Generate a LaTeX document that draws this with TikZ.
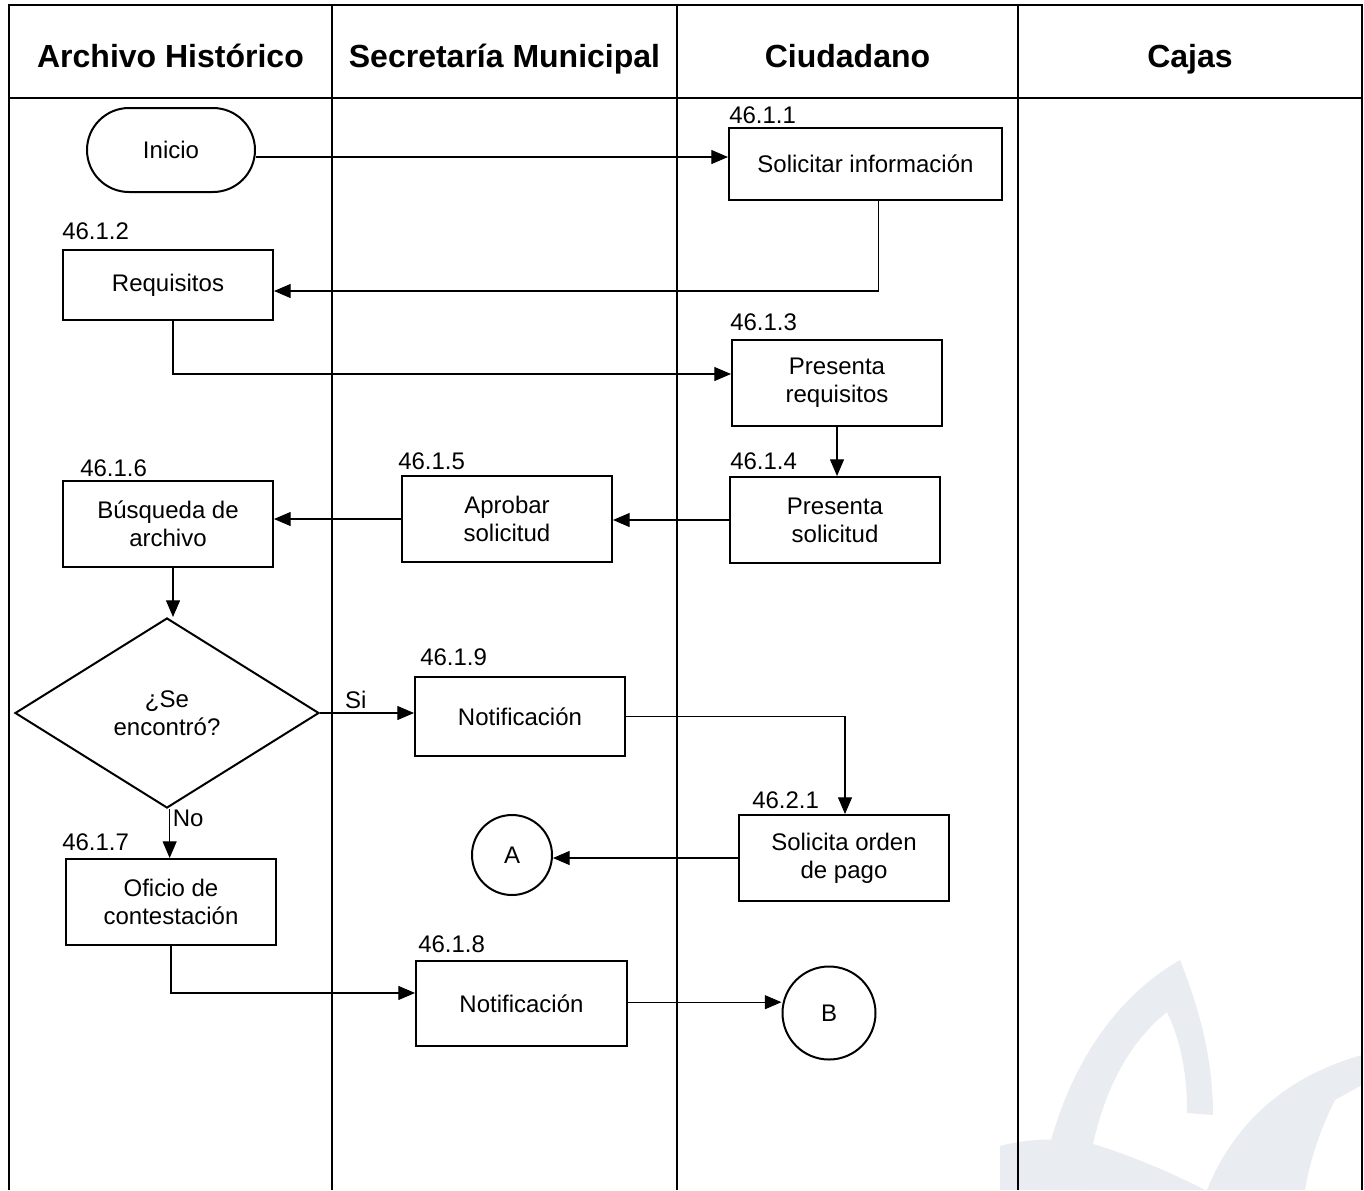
\documentclass[tikz,border=0pt]{standalone}
\usepackage{fontspec}
\setmainfont{Liberation Sans}
\usetikzlibrary{shapes.geometric,arrows.meta,calc}
\definecolor{wmark}{RGB}{233,236,240}
\tikzset{
  body/.style={font=\fontsize{18}{21}\selectfont},
  hdr/.style={font=\fontsize{24}{28}\selectfont\bfseries, anchor=base},
  stepbox/.style={draw, line width=1.5pt, rectangle, minimum width=157.5pt, minimum height=64.5pt, inner sep=0pt, align=center, body},
  numlbl/.style={anchor=west, inner sep=0pt, body},
  termbox/.style={draw, line width=1.5pt, rectangle, rounded corners=31.5pt, minimum width=126pt, minimum height=63pt, inner sep=0pt, body},
  decbox/.style={draw, line width=1.5pt, diamond, shape aspect=1.6, minimum width=228pt, minimum height=142.5pt, inner sep=0pt, align=center, body},
  conn/.style={draw, circle, line width=1.5pt, inner sep=0pt, body},
  arr/.style={line width=0.8pt, -{Triangle[length=12.5pt,width=10.5pt]}},
  frame/.style={line width=1.9pt}
}
\begin{document}
\begin{tikzpicture}[x=0.75pt,y=-0.75pt]
\useasboundingbox (0,0) rectangle (1364,1190);
% watermark
\fill[wmark] (1040,1190) .. controls (1058,1080) and (1110,1000) .. (1180,960)
  .. controls (1200,1010) and (1213,1060) .. (1213,1115) -- (1187,1113)
  .. controls (1187,1070) and (1180,1040) .. (1167,1012)
  .. controls (1120,1050) and (1095,1110) .. (1085,1190) -- cycle;
\fill[wmark] (1000,1190) -- (1000,1146) .. controls (1030,1138) and (1060,1138) .. (1090,1143)
  .. controls (1130,1155) and (1170,1172) .. (1205,1190) -- cycle;
\fill[wmark] (1207,1190) .. controls (1235,1120) and (1290,1075) .. (1362,1055) -- (1362,1085)
  -- (1335,1100) .. controls (1320,1130) and (1310,1160) .. (1305,1190) -- cycle;
% frame and lanes
\draw[frame] (9,1190) -- (9,5) -- (1362,5) -- (1362,1190);
\draw[frame] (9,98) -- (1362,98);
\draw[frame] (332,5) -- (332,1190);
\draw[frame] (677,5) -- (677,1190);
\draw[frame] (1018,5) -- (1018,1190);
\node[hdr] (h1) at (170.5,67) {Archivo Histórico};
\node[hdr] (h2) at (504.5,67) {Secretaría Municipal};
\node[hdr] (h3) at (847.5,67) {Ciudadano};
\node[hdr] (h4) at (1190,67) {Cajas};
% nodes
\node[termbox] (inicio) at (171,150) {Inicio};
\node[stepbox, minimum width=204.75pt, minimum height=54pt] (s1) at (865.5,164) {Solicitar información};
\node[numlbl] (l1) at (729,115) {46.1.1};
\node[stepbox, minimum height=52.5pt] (s2) at (168,285) {Requisitos};
\node[numlbl] (l2) at (62,231) {46.1.2};
\node[stepbox] (s3) at (837,383) {Presenta\\requisitos};
\node[numlbl] (l3) at (730,322) {46.1.3};
\node[stepbox] (s4) at (835,520) {Presenta\\solicitud};
\node[numlbl] (l4) at (730,461) {46.1.4};
\node[stepbox] (s5) at (507,519) {Aprobar\\solicitud};
\node[numlbl] (l5) at (398,461) {46.1.5};
\node[stepbox] (s6) at (168,524) {Búsqueda de\\archivo};
\node[numlbl] (l6) at (80,468) {46.1.6};
\node[decbox] (dia) at (167,713) {¿Se\\encontró?};
\node[stepbox, minimum height=59.25pt] (s9) at (520,716.5) {Notificación};
\node[numlbl] (l9) at (420,657) {46.1.9};
\node[stepbox] (s21) at (844,858) {Solicita orden\\de pago};
\node[numlbl] (l21) at (752,800) {46.2.1};
\node[conn, minimum size=60pt] (A) at (512,855) {A};
\node[stepbox] (s7) at (171,902) {Oficio de\\contestación};
\node[numlbl] (l7) at (62,842) {46.1.7};
\node[stepbox, minimum width=158.25pt, minimum height=63.75pt] (s8) at (521.5,1003.5) {Notificación};
\node[numlbl] (l8) at (418,944) {46.1.8};
\node[conn, minimum size=69.75pt] (B) at (829,1013) {B};
% connectors
\draw[arr] ([yshift=-5.25pt]inicio.east) -- ([yshift=-5.25pt]inicio.east -| s1.west);
\draw[arr] ([xshift=10pt]s1.south) |- ([yshift=-4.5pt]s2.east);
\draw[arr] ([xshift=3.75pt]s2.south) |- ([yshift=6.75pt]s3.west);
\draw[arr] (s3.south) -- (s3.south |- s4.north);
\draw[arr] (s4.west) -- (s4.west -| s5.east);
\draw[arr] (s5.west) -- (s5.west -| s6.east);
\draw[arr] ([xshift=3.75pt]s6.south) -- ([xshift=3.75pt]s6.south |- dia.north);
\draw[arr] (dia.east) -- (dia.east -| s9.west) node[pos=0.38, above, body, inner sep=3pt] (si) {Si};
\draw[arr] (s9.east) -| ([xshift=0.75pt]s21.north);
\draw[arr] (s21.west) -- (s21.west -| A.east);
\draw[arr] ([xshift=2pt]dia.south) -- ([xshift=2pt]dia.south |- s7.north) node[pos=0.2, right, body, inner sep=2pt] (no) {No};
\draw[arr] (s7.south) |- ([yshift=7.9pt]s8.west);
\draw[arr] ([yshift=1pt]s8.east) -- ([yshift=1pt]s8.east -| B.west);
\end{tikzpicture}
\end{document}
